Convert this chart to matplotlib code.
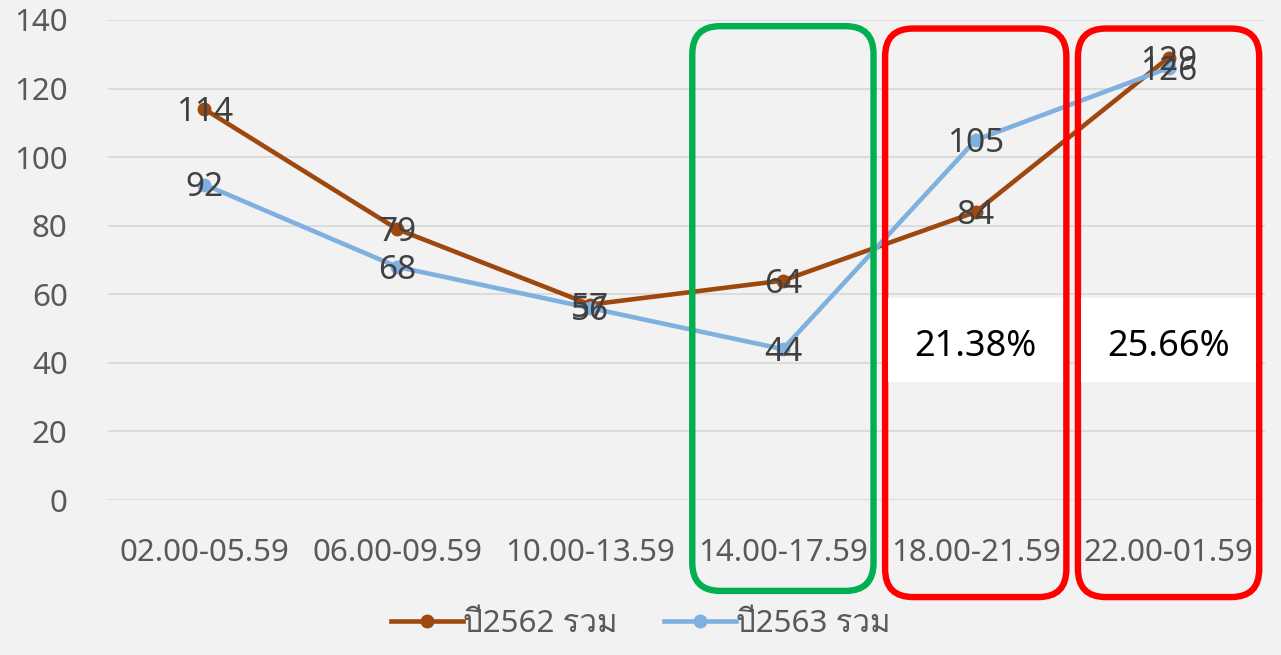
import matplotlib
matplotlib.use("Agg")
import matplotlib.pyplot as plt
from matplotlib import font_manager
from matplotlib.patches import FancyBboxPatch, Rectangle
from fontTools.ttLib import TTFont

# --- Daten ---------------------------------------------------------------
categories = ["02.00-05.59", "06.00-09.59", "10.00-13.59",
              "14.00-17.59", "18.00-21.59", "22.00-01.59"]
y2562 = [114, 79, 57, 64, 84, 129]
y2563 = [92, 68, 56, 44, 105, 126]
labels = ["ปี2562 รวม", "ปี2563 รวม"]
pct_idx = [4, 5]
pct_text = ["21.38%", "25.66%"]
green_idx = [3]
red_idx = [4, 5]


def thai_family():
    # irgendeine installierte Schrift mit Thai-Glyphen suchen
    for f in font_manager.fontManager.ttflist:
        try:
            cmap = TTFont(f.fname, fontNumber=0, lazy=True).getBestCmap()
        except Exception:
            continue
        if cmap and 0x0E1B in cmap and 0x0E21 in cmap:
            return f.name
    return None


fam = ["Noto Sans", "DejaVu Sans"]
tf = thai_family()
if tf:
    fam = ["Noto Sans", tf, "DejaVu Sans"]
plt.rcParams["font.family"] = fam

BG = "#f2f2f2"
C62 = "#9e480e"
C63 = "#7fb0df"
FS = 22.5

fig = plt.figure(figsize=(12.81, 6.55), dpi=100, facecolor=BG)
ax = fig.add_axes([0.0843, 0.2366, 0.9032, 0.7329], facecolor=BG)

x = list(range(len(categories)))
ax.plot(x, y2562, color=C62, lw=3.3, marker="o", ms=9, label=labels[0], zorder=3)
ax.plot(x, y2563, color=C63, lw=3.3, marker="o", ms=9, label=labels[1], zorder=3)

for xi, v in zip(x, y2562):
    ax.text(xi, v - 1, str(v), ha="center", va="center", fontsize=24, color="#404040", zorder=5)
for xi, v in zip(x, y2563):
    ax.text(xi, v - 1, str(v), ha="center", va="center", fontsize=24, color="#404040", zorder=5)

ax.set_xlim(-0.5, len(categories) - 0.5)
ax.set_ylim(0, 140)
ax.set_yticks(range(0, 141, 20))
ax.set_xticks(x)
ax.set_xticklabels(categories)
ax.tick_params(axis="both", length=0, labelsize=FS, colors="#595959")
ax.tick_params(axis="x", pad=27)
ax.tick_params(axis="y", pad=29)
ax.grid(axis="y", color="#d9d9d9", lw=1.3)
ax.set_axisbelow(True)
for s in ax.spines.values():
    s.set_visible(False)

leg = fig.legend(loc="center", bbox_to_anchor=(0.5, 0.048), ncol=2, frameon=False,
                 fontsize=FS, handlelength=2.3, handletextpad=0.0, columnspacing=1.5)
for t in leg.get_texts():
    t.set_color("#595959")

fig.canvas.draw()


def px(xd, yd):
    return ax.transData.transform((xd, yd))


def rbox(i, top, bottom, color):
    x0, y0 = px(i - 0.47, bottom)
    x1, y1 = px(i + 0.47, top)
    r = 28
    p = FancyBboxPatch((x0 + r, y0 + r), (x1 - x0) - 2 * r, (y1 - y0) - 2 * r,
                       boxstyle=f"round,pad={r}", fc="none", ec=color, lw=4.6,
                       transform=None, zorder=6, clip_on=False)
    fig.add_artist(p)


for i in green_idx:
    rbox(i, 138.2, -26.5, "#00b050")
for i in red_idx:
    rbox(i, 137.5, -28.3, "#ff0000")

for i, t in zip(pct_idx, pct_text):
    x0, y0 = px(i - 0.455, 34.4)
    x1, y1 = px(i + 0.455, 59)
    fig.add_artist(Rectangle((x0, y0), x1 - x0, y1 - y0, fc="white", ec="none",
                             transform=None, zorder=7))
    fig.text((x0 + x1) / 2 / fig.bbox.width, ((y0 + y1) / 2 - 7) / fig.bbox.height, t,
             ha="center", va="center", fontsize=26, color="black", zorder=8)

fig.savefig("out.png", dpi=100, facecolor=BG)
